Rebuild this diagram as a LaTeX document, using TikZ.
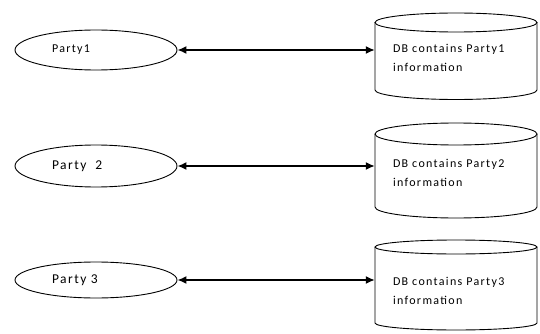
\documentclass[tikz,border=0pt]{standalone}
\usepackage{fontspec}
\setmainfont{Carlito}[LetterSpace=11]
\usetikzlibrary{shapes.geometric,arrows.meta}

% database drawn as a cylinder: centre x, top rim y, bottom rim y, rim radius
\newcommand{\dbcylinder}[4]{%
  \draw[dbline] ({#1-81},#2) -- ({#1-81},#3)
    arc[start angle=180,end angle=360,x radius=81pt,y radius=#4pt]
    -- ({#1+81},#2);
  \draw[dbline] (#1,#2) ellipse[x radius=81pt,y radius=#4pt];
}

\tikzset{
  party/.style={ellipse,draw=black,line width=0.9pt,minimum width=162pt,
    text width=88pt,align=left,font=\fontsize{12}{14}\selectfont},
  bigparty/.style={party,font=\fontsize{13.5}{15}\selectfont},
  dbtext/.style={inner xsep=18pt,inner ysep=0pt,text width=126pt,align=left,
    font=\fontsize{12}{19}\selectfont},
  dbline/.style={draw=black,line width=0.9pt},
  link/.style={line width=1.6pt,{Latex[length=9pt,width=8pt]}-{Latex[length=9pt,width=8pt]}},
}

\begin{document}
\begin{tikzpicture}[x=1pt,y=-1pt]
  \useasboundingbox (0,0) rectangle (540,334);

  % parties
  \node[party,minimum height=40pt] (p1) at (96,50)  {Party1};
  \node[bigparty,minimum height=42pt] (p2) at (96,166) {Party~~2};
  \node[bigparty,minimum height=36pt] (p3) at (96,280) {Party 3};

  % databases
  \dbcylinder{456}{22.5}{90}{9.5}
  \dbcylinder{456}{134}{207}{11}
  \dbcylinder{456}{247}{323}{7}

  \node[dbtext] (db1) at (456,57.5) {DB contains Party1\\information};
  \node[dbtext] (db2) at (456,172.5) {DB contains Party2\\information};
  \node[dbtext] (db3) at (456,291) {DB contains Party3\\information};

  % links
  \draw[link] (p1.east) -- (p1.east -| db1.west);
  \draw[link] (p2.east) -- (p2.east -| db2.west);
  \draw[link] (p3.east) -- (p3.east -| db3.west);
\end{tikzpicture}
\end{document}
